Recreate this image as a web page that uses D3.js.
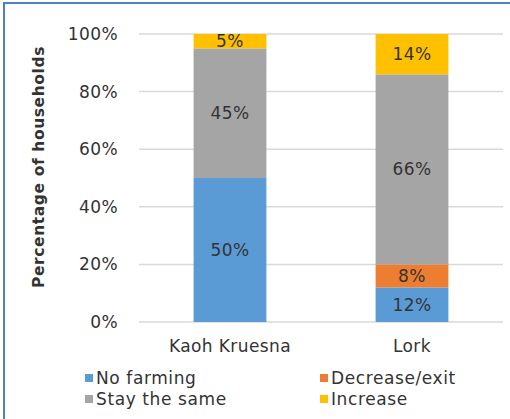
<!DOCTYPE html>
<html lang="en">
<head>
    <meta charset="UTF-8">
    <title>Households farming plans</title>
    <style>
        body { margin: 0; background: #fff; }
        text { font-family: "DejaVu Sans", sans-serif; fill: #333; }
        .grid line { stroke: #d9d9d9; stroke-width: 1.5px; }
    </style>
</head>
<body>

<svg width="510" height="419"></svg>

<script src="https://cdn.jsdelivr.net/npm/d3@7"></script>

<script>
    var categories = ["Kaoh Kruesna", "Lork"];
    var seriesNames = ["No farming", "Decrease/exit", "Stay the same", "Increase"];
    var noFarming = [50, 12];
    var decreaseExit = [0, 8];
    var stayTheSame = [45, 66];
    var increase = [5, 14];
    var yTicks = [0, 20, 40, 60, 80, 100];
    var colors = ["#5b9bd5", "#ed7d31", "#a5a5a5", "#ffc000"];

    var svg = d3.select("svg");
    var margin = {top: 34, right: 7, bottom: 97, left: 139};
    var width = +svg.attr("width") - margin.left - margin.right;
    var height = +svg.attr("height") - margin.top - margin.bottom;

    // frame (only top and left edges show in the picture)
    svg.append("path")
        .attr("d", "M4,419 V3 H510")
        .attr("fill", "none")
        .attr("stroke", "#4f7fc4")
        .attr("stroke-width", 2);

    var g = svg.append("g").attr("transform", `translate(${margin.left}, ${margin.top})`);

    var rows = categories.map(function (c, i) {
        return {
            cat: c,
            "No farming": noFarming[i],
            "Decrease/exit": decreaseExit[i],
            "Stay the same": stayTheSame[i],
            "Increase": increase[i]
        };
    });

    var x = d3.scaleBand().domain(categories).range([0, width]).paddingInner(0.6).paddingOuter(0.3);
    var y = d3.scaleLinear().domain([0, 100]).range([height, 0]);
    var color = d3.scaleOrdinal().domain(seriesNames).range(colors);

    // gridlines
    g.append("g")
        .attr("class", "grid")
        .selectAll("line")
        .data(yTicks)
        .join("line")
        .attr("x1", 0).attr("x2", width)
        .attr("y1", d => y(d)).attr("y2", d => y(d));

    // y axis labels
    var yAxis = g.append("g")
        .call(d3.axisLeft(y).tickValues(yTicks).tickFormat(d => d + "%").tickSize(0).tickPadding(21));
    yAxis.select(".domain").remove();
    yAxis.selectAll("text").style("font-size", "17px").style("letter-spacing", "0.4px").attr("fill", "#333");

    // x axis labels
    var xAxis = g.append("g")
        .attr("transform", `translate(0, ${height})`)
        .call(d3.axisBottom(x).tickSize(0).tickPadding(18));
    xAxis.select(".domain").remove();
    xAxis.selectAll("text").style("font-size", "17px").style("letter-spacing", "0.4px").attr("fill", "#333");

    var stacked = d3.stack().keys(seriesNames)(rows);

    var layers = g.selectAll(".layer")
        .data(stacked)
        .join("g")
        .attr("class", "layer")
        .attr("fill", d => color(d.key));

    layers.selectAll("rect")
        .data(d => d)
        .join("rect")
        .attr("x", d => x(d.data.cat))
        .attr("width", x.bandwidth())
        .attr("y", d => y(d[1]))
        .attr("height", d => y(d[0]) - y(d[1]));

    layers.selectAll("text")
        .data(d => d.filter(p => p[1] - p[0] > 0))
        .join("text")
        .attr("x", d => x(d.data.cat) + x.bandwidth() / 2)
        .attr("y", d => y((d[0] + d[1]) / 2))
        .attr("dy", "0.36em")
        .attr("text-anchor", "middle")
        .style("font-size", "17px")
        .style("letter-spacing", "0.4px")
        .text(d => (d[1] - d[0]) + "%");

    // y axis title
    svg.append("text")
        .attr("transform", "translate(44, 167) rotate(-90)")
        .attr("text-anchor", "middle")
        .style("font-size", "15.5px")
        .style("font-weight", "bold")
        .style("letter-spacing", "0.6px")
        .attr("fill", "#1e1e1e")
        .text("Percentage of households");

    // legend, two columns
    var legend = svg.append("g")
        .selectAll("g")
        .data(seriesNames)
        .join("g")
        .attr("transform", (d, i) => `translate(${i % 2 === 0 ? 85 : 320}, ${i < 2 ? 378 : 399})`);

    legend.append("rect")
        .attr("x", 0).attr("y", -4)
        .attr("width", 8).attr("height", 8)
        .attr("fill", d => color(d));

    legend.append("text")
        .attr("x", 11)
        .attr("dy", "0.36em")
        .style("font-size", "17px")
        .style("letter-spacing", "0.6px")
        .text(d => d);
</script>
</body>
</html>
